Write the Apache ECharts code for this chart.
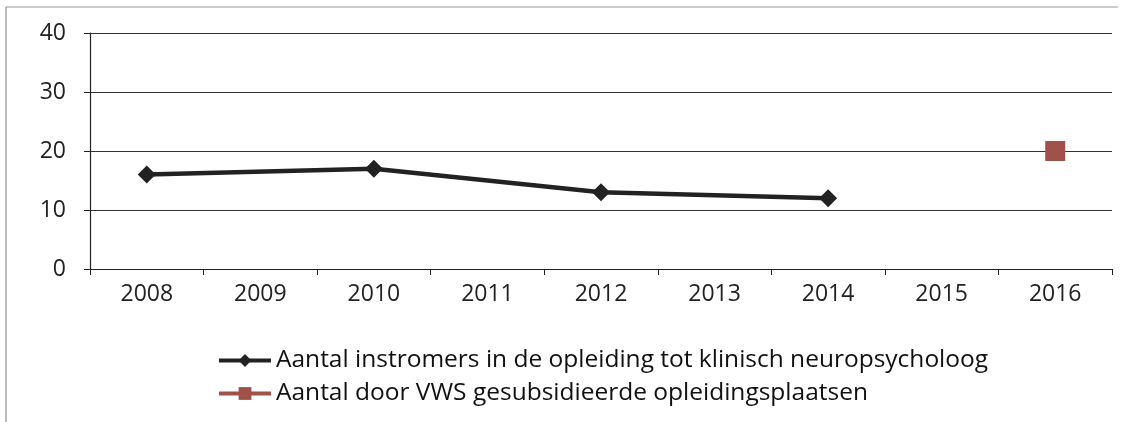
<!DOCTYPE html>
<html>
<head>
<meta charset="utf-8">
<script src="https://cdn.jsdelivr.net/npm/echarts@6/dist/echarts.min.js"></script>
<style>
  html, body { margin: 0; padding: 0; background: #fff; }
  #chart { width: 1129px; height: 422px; }
</style>
</head>
<body>
<div id="chart"></div>
<script>
// jaren op de x-as
var years = ['2008', '2009', '2010', '2011', '2012', '2013', '2014', '2015', '2016'];
// instromers (alleen even jaren bekend)
var instromers = [16, null, 17, null, 13, null, 12, null, null];
// gesubsidieerde plaatsen
var vwsPlaatsen = [null, null, null, null, null, null, null, null, 20];
var yTicks = [0, 10, 20, 30, 40];

var chart = echarts.init(document.getElementById('chart'));
var option = {
    backgroundColor: '#fff',
    animation: false,
    textStyle: { fontFamily: '"Open Sans", sans-serif' },
    graphic: [
        { type: 'line', shape: { x1: 6, y1: 7, x2: 6, y2: 422 }, style: { stroke: '#777', lineWidth: 1 } },
        { type: 'line', shape: { x1: 6, y1: 7, x2: 1118, y2: 7 }, style: { stroke: '#999', lineWidth: 1 } }
    ],
    grid: { left: 90, right: 17, top: 33, height: 236 },
    legend: {
        orient: 'vertical',
        left: 212,
        top: 343,
        itemWidth: 52,
        itemHeight: 16,
        itemGap: 8,
        lineStyle: { width: 4 },
        textStyle: { fontSize: 24.5, color: '#111', fontFamily: '"Open Sans", sans-serif' },
        data: [
            'Aantal instromers in de opleiding tot klinisch neuropsycholoog',
            'Aantal door VWS gesubsidieerde opleidingsplaatsen'
        ]
    },
    xAxis: {
        type: 'category',
        data: years,
        boundaryGap: true,
        axisLine: { lineStyle: { color: '#222', width: 1.2 } },
        axisTick: { show: true, length: 6, lineStyle: { color: '#222' } },
        axisLabel: { fontSize: 23, color: '#222', margin: 14 }
    },
    yAxis: {
        type: 'value',
        min: yTicks[0],
        max: yTicks[yTicks.length - 1],
        interval: 10,
        axisLine: { show: true, lineStyle: { color: '#222', width: 1.2 } },
        axisTick: { show: true, length: 6, lineStyle: { color: '#222' } },
        axisLabel: { fontSize: 23, color: '#222', margin: 24 },
        splitLine: { lineStyle: { color: '#333', width: 1 } }
    },
    series: [
        {
            name: 'Aantal instromers in de opleiding tot klinisch neuropsycholoog',
            type: 'line',
            data: instromers,
            connectNulls: true,
            symbol: 'diamond',
            symbolSize: 18,
            itemStyle: { color: '#222' },
            lineStyle: { color: '#222', width: 4.5 }
        },
        {
            name: 'Aantal door VWS gesubsidieerde opleidingsplaatsen',
            type: 'line',
            data: vwsPlaatsen,
            symbol: 'rect',
            symbolSize: 20,
            itemStyle: { color: '#a0524a' },
            lineStyle: { color: '#a0524a', width: 4 }
        }
    ]
};
chart.setOption(option);
</script>
</body>
</html>
